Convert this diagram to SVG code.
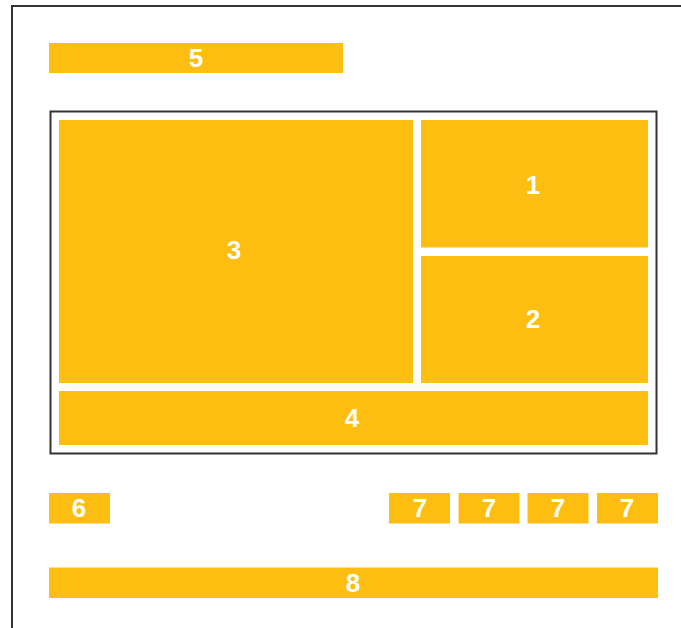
<svg xmlns="http://www.w3.org/2000/svg" width="681" height="628" viewBox="0 0 681 628">
<style>
.b{fill:#FDBE11}
.t{fill:#fff;font-family:"Liberation Sans",Arial,sans-serif;font-weight:bold;font-size:26px;text-anchor:middle;dominant-baseline:central}
.f{fill:none;stroke:#333;stroke-width:2}
</style>
<rect x="0" y="0" width="681" height="628" fill="#fff"/>
<rect class="f" x="12" y="6" width="700" height="700"/>
<g id="n5"><rect class="b" x="49" y="43" width="294" height="30"/><text class="t" x="196" y="58">5</text></g>
<rect class="f" x="50.5" y="111.5" width="606" height="342"/>
<g id="n3"><rect class="b" x="59" y="120" width="354" height="263"/><text class="t" x="234" y="250">3</text></g>
<g id="n1"><rect class="b" x="421" y="120" width="227" height="127.5"/><text class="t" x="533" y="185">1</text></g>
<g id="n2"><rect class="b" x="421" y="256" width="227" height="127"/><text class="t" x="533" y="319">2</text></g>
<g id="n4"><rect class="b" x="59" y="391" width="589" height="54"/><text class="t" x="352" y="418">4</text></g>
<g id="n6"><rect class="b" x="49" y="493" width="61" height="30.5"/><text class="t" x="79" y="508">6</text></g>
<g id="n7a"><rect class="b" x="389" y="493" width="61" height="30.5"/><text class="t" x="420" y="508">7</text></g>
<g id="n7b"><rect class="b" x="458.5" y="493" width="61" height="30.5"/><text class="t" x="489" y="508">7</text></g>
<g id="n7c"><rect class="b" x="527.5" y="493" width="61" height="30.5"/><text class="t" x="558" y="508">7</text></g>
<g id="n7d"><rect class="b" x="597" y="493" width="61" height="30.5"/><text class="t" x="627" y="508">7</text></g>
<g id="n8"><rect class="b" x="49" y="567.5" width="609" height="30.5"/><text class="t" x="353" y="583">8</text></g>
<g id="connectors"></g>
</svg>
